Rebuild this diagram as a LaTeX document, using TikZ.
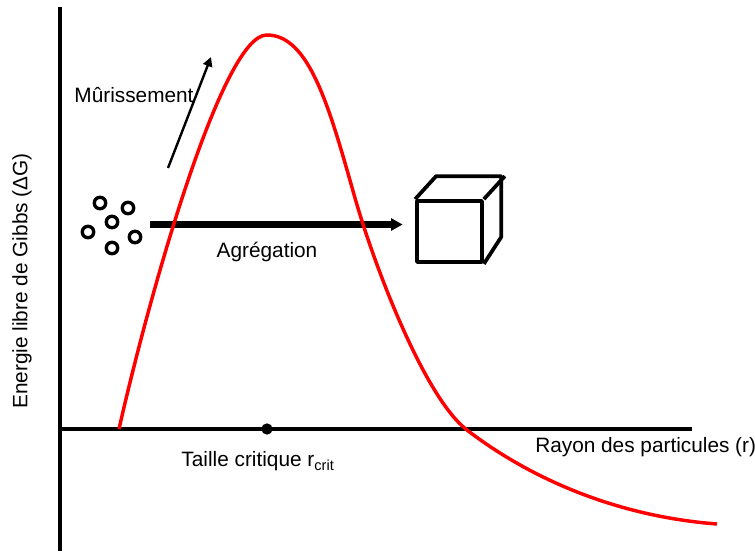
\documentclass[tikz,border=0pt]{standalone}
\usepackage{fontspec}
\setmainfont{Liberation Sans}
\usetikzlibrary{arrows.meta}

\begin{document}
\begin{tikzpicture}[x=0.75pt, y=-0.75pt,
  axis/.style={line width=2.5pt},
  lbl/.style={font=\fontsize{15.6}{18}\selectfont, inner sep=0pt},
  grain/.style={circle, draw, line width=2.5pt, minimum size=8.6pt, inner sep=0pt},
  cubeline/.style={line width=2.8pt, line join=round},
  gibbs/.style={red, line width=2.6pt}]
  \useasboundingbox (0,0) rectangle (755,551);
  % axes
  \coordinate (ytop) at (60,7);
  \coordinate (ybot) at (60,551);
  \coordinate (O) at (60,429);
  \coordinate (xend) at (692,429);
  \draw[axis] (ytop) -- (ybot);
  \draw[axis] (O) -- (xend);
  \node[lbl, rotate=90] (ylab) at (22,281) {Energie libre de Gibbs (ΔG)};
  \node[lbl, anchor=west] (xlab) at (535,447) {Rayon des particules (r)};
  % critical size
  \node[circle, fill, inner sep=0pt, minimum size=8.5pt] (rcrit) at (267,429) {};
  \node[lbl] (rcritlab) at (258,461) {Taille critique r\textsubscript{crit}};
  % small grains
  \node[grain] (g1) at (100,203) {};
  \node[grain] (g2) at (128,208) {};
  \node[grain] (g3) at (112,222) {};
  \node[grain] (g4) at (88,232) {};
  \node[grain] (g5) at (135,237) {};
  \node[grain] (g6) at (112,248) {};
  % big crystal (cube)
  \node[draw, cubeline, minimum width=48.75pt, minimum height=45.75pt, inner sep=0pt] (cube) at (449.5,231.5) {};
  \draw[cubeline] (cube.north west) -- ++(21,-23) -- ++(65,0) -- ++(0,61) -- (cube.south east);
  \draw[cubeline] (cube.north east) -- ++(21,-23);
  % aggregation
  \coordinate (agr) at (150,224.5);
  \draw[line width=5.3pt, -{Triangle[length=8.5pt, width=9.5pt, line width=0pt]}, shorten >=9.5pt] (agr) -- (cube.west |- agr);
  \node[lbl] (agrlab) at (267,252) {Agrégation};
  % ripening
  \coordinate (mur-a) at (168,168);
  \coordinate (mur-b) at (211,57);
  \draw[line width=1.8pt, -{Triangle[length=7pt, width=7pt]}] (mur-a) -- (mur-b);
  \node[lbl] (murlab) at (134,95) {Mûrissement};
  % Gibbs free energy curve
  \coordinate (g-start) at (119,429);
  \coordinate (g-top) at (267,35);
  \coordinate (g-turn) at (355,198);
  \coordinate (g-cross) at (467,430);
  \coordinate (g-end) at (717,524);
  \draw[gibbs] (g-start) .. controls (148,300) and (222,34) .. (g-top)
    .. controls (310,35) and (330,110) .. (g-turn)
    .. controls (375,268) and (425,398) .. (g-cross)
    .. controls (515,467) and (600,515) .. (g-end);
\end{tikzpicture}
\end{document}
